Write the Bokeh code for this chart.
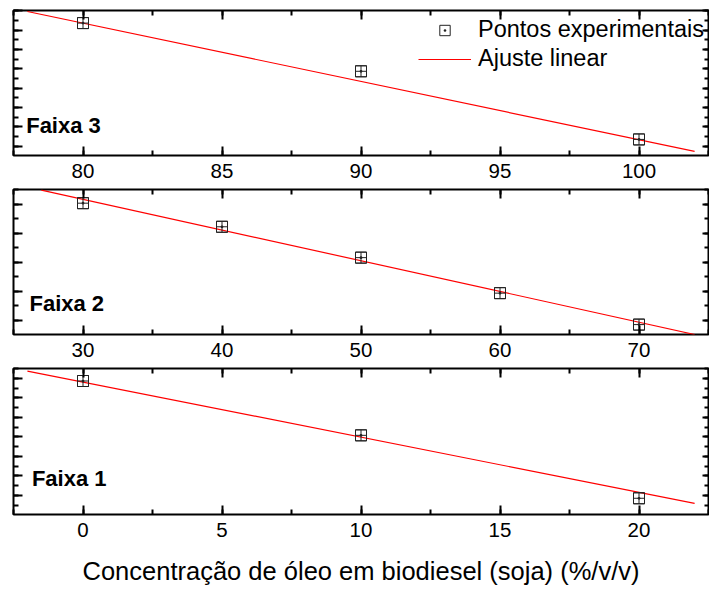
from bokeh.plotting import figure
from bokeh.layouts import column
from bokeh.models import (Range1d, LinearAxis, SingleIntervalTicker, Label,
                          Legend, LegendItem, CustomLabelingPolicy)
from bokeh.embed import file_html
from bokeh.resources import INLINE

FONT = "Liberation Sans"

# Faixa 3 (80-100 %)
f3_x = [80, 90, 100]
f3_y = [7.36, 4.87, 1.35]
f3_fit_x = [78, 102]
f3_fit_y = [7.96, 0.73]

# Faixa 2 (30-70 %)
f2_x = [30, 40, 50, 60, 70]
f2_y = [5.03, 4.22, 3.16, 1.94, 0.86]
f2_fit_x = [27, 74]
f2_fit_y = [5.48, 0.52]

# Faixa 1 (0-20 %)
f1_x = [0, 10, 20]
f1_y = [6.86, 4.08, 0.86]
f1_fit_x = [-2, 22]
f1_fit_y = [7.37, 0.60]

x_title = "Concentração de óleo em biodiesel (soja) (%/v/v)"

# tick-only axes: drop every tick label
NO_LABELS = """
for (const i of indices) { indices.unset(i) }
return indices
"""


def style_axis(ax, major, minor, labels):
    ax.axis_line_color = None
    ax.major_tick_in = major
    ax.major_tick_out = 0
    ax.minor_tick_in = minor
    ax.minor_tick_out = 0
    ax.major_tick_line_width = 2
    ax.minor_tick_line_width = 2
    ax.major_tick_line_color = "black"
    ax.minor_tick_line_color = "black"
    if labels:
        ax.major_label_text_font = FONT
        ax.major_label_text_font_size = "20.5px"
        ax.major_label_text_color = "black"
        ax.major_label_standoff = 8
    else:
        ax.major_label_text_font_size = "0px"
        ax.major_label_standoff = 0
        ax.major_label_policy = CustomLabelingPolicy(code=NO_LABELS)


def panel(xs, ys, fx, fy, xr, yr, xstep, name, name_pos, height, top, bottom):
    p = figure(width=709, height=height,
               x_range=Range1d(*xr), y_range=Range1d(*yr),
               output_backend="svg", toolbar_location=None,
               min_border_left=13, min_border_right=1,
               min_border_top=top, min_border_bottom=bottom)
    p.grid.visible = False
    p.outline_line_color = "black"
    p.outline_line_width = 2
    p.background_fill_color = "white"
    p.border_fill_color = "white"

    bottom_ax = p.below[0]
    left_ax = p.left[0]
    bottom_ax.ticker = SingleIntervalTicker(interval=xstep, num_minor_ticks=2)
    left_ax.ticker = SingleIntervalTicker(interval=1, num_minor_ticks=2)
    style_axis(bottom_ax, 9, 5, True)
    style_axis(left_ax, 9, 5, False)

    top_ax = LinearAxis(ticker=SingleIntervalTicker(interval=xstep, num_minor_ticks=2))
    style_axis(top_ax, 9, 5, False)
    p.add_layout(top_ax, "above")
    right_ax = LinearAxis(ticker=SingleIntervalTicker(interval=1, num_minor_ticks=2))
    style_axis(right_ax, 6, 4, False)
    p.add_layout(right_ax, "right")

    fit = p.line(fx, fy, line_color="red", line_width=1.2)
    p.scatter(xs, ys, marker="square_cross", size=11, fill_color=None,
              line_color="#222222", line_width=1)
    # same points as an open square with a centre dot (used as legend key)
    key = p.scatter(xs, ys, marker="square_dot", size=11, fill_color=None,
                    line_color="#222222", line_width=1)

    p.add_layout(Label(x=name_pos[0], y=name_pos[1], x_units="screen", y_units="screen",
                       text=name, text_font=FONT, text_font_size="22px",
                       text_font_style="bold", text_color="black",
                       text_baseline="alphabetic"))
    return p, fit, key, bottom_ax


p3, fit3, key3, _ = panel(f3_x, f3_y, f3_fit_x, f3_fit_y, (77.5, 102.5), (0.52, 8.01), 5,
                          "Faixa 3", (12.7, 30), 188, 10, 33)
p2, _, _, _ = panel(f2_x, f2_y, f2_fit_x, f2_fit_y, (25, 75), (0.52, 5.50), 10,
                    "Faixa 2", (16, 31), 179, 1, 33)
p1, _, _, ax1 = panel(f1_x, f1_y, f1_fit_x, f1_fit_y, (-2.5, 22.5), (0.03, 7.50), 5,
                      "Faixa 1", (18.4, 36), 223, 1, 76)

ax1.axis_label = x_title
ax1.axis_label_text_font = FONT
ax1.axis_label_text_font_size = "25.5px"
ax1.axis_label_text_font_style = "normal"
ax1.axis_label_text_color = "black"
ax1.axis_label_standoff = 17

legend = Legend(items=[LegendItem(label="Pontos experimentais", renderers=[key3], index=0),
                       LegendItem(label="Ajuste linear", renderers=[fit3])],
                location=(405, 83), border_line_color=None,
                background_fill_alpha=0, padding=0, margin=0, spacing=2,
                glyph_width=53, glyph_height=26, label_height=26,
                label_standoff=7, label_text_font=FONT,
                label_text_font_size="23.5px", label_text_color="black")
p3.add_layout(legend)

layout = column(p3, p2, p1, spacing=0)
open("out.html", "w").write(file_html(layout, INLINE))
